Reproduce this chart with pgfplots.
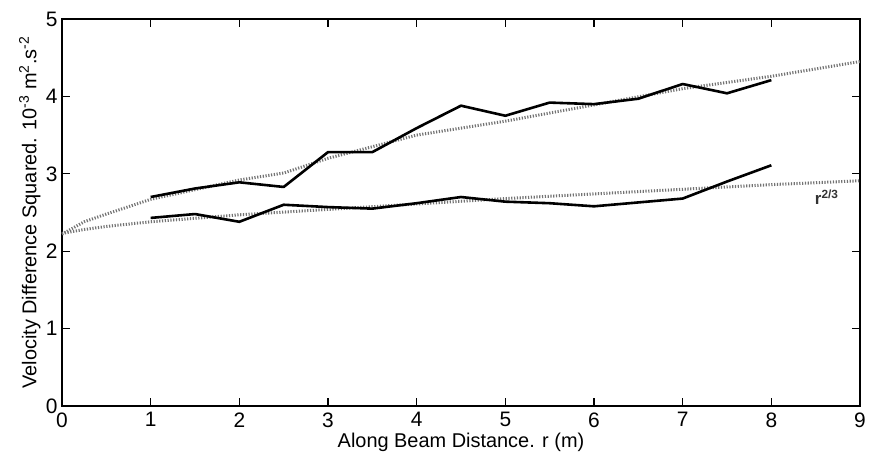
\documentclass[border=0pt]{standalone}
\usepackage{fontspec}
\setmainfont{Liberation Sans}
\usepackage{pgfplots}
\pgfplotsset{compat=1.18}
\begin{document}
\begin{tikzpicture}
\path[use as bounding box] (0,0) rectangle (872bp,458bp);
\begin{axis}[
  at={(62bp,52bp)}, anchor=south west,
  width=798bp, height=387bp, scale only axis,
  xmin=0, xmax=9, ymin=0, ymax=5,
  xtick={0,...,9}, ytick={0,...,5},
  tick align=inside,
  major tick length=8bp,
  axis line style={line width=1.4bp},
  every tick/.style={line width=1.2bp, black},
  font=\fontsize{20}{24}\selectfont,
  tick label style={font=\fontsize{21}{24}\selectfont},
  xticklabel style={yshift=-3bp},
  yticklabel style={xshift=-1bp},
  /pgf/number format/assume math mode=true,
  xlabel={Along Beam Distance. r (m)},
  ylabel={Velocity Difference Squared. 10\textsuperscript{-3} m\textsuperscript{2}.s\textsuperscript{-2}},
  xlabel style={at={(axis description cs:0.5,-0.1085)}, anchor=base},
  ylabel style={at={(axis description cs:-0.032,0.5)}, anchor=base, rotate=0},
  clip=false,
]
% fitted r^{2/3} curves (dotted)
\addplot[color=black!55, line width=3bp, dash pattern=on 1.2bp off 1.6bp] coordinates {
 (0,2.22) (0.25,2.38) (0.5,2.48) (1,2.67) (2,2.92) (2.5,3.01) (3,3.20) (4,3.50)
 (5,3.68) (6,3.89) (7,4.10) (8,4.26) (9,4.45)};
\addplot[color=black!55, line width=3bp, dash pattern=on 1.2bp off 1.6bp] coordinates {
 (0,2.23) (0.25,2.28) (0.5,2.32) (1,2.38) (2,2.47) (3,2.54) (4,2.61)
 (5,2.68) (6,2.74) (7,2.80) (8,2.86) (9,2.91)};
% measured
\addplot[black, line width=2.6bp, line join=round] coordinates {
 (1,2.70) (1.5,2.81) (2,2.89) (2.5,2.83) (3,3.28) (3.5,3.28) (4,3.59) (4.5,3.88)
 (5,3.75) (5.5,3.92) (6,3.90) (6.5,3.97) (7,4.16) (7.5,4.04) (8,4.21)};
\addplot[black, line width=2.6bp, line join=round] coordinates {
 (1,2.43) (1.5,2.48) (2,2.38) (2.5,2.60) (3,2.57) (3.5,2.55) (4,2.62) (4.5,2.70)
 (5,2.64) (5.5,2.62) (6,2.58) (6.5,2.63) (7,2.68) (7.5,2.90) (8,3.11)};
\node[anchor=base west, inner sep=0pt, font=\fontsize{17}{19}\selectfont\bfseries, text=black!80] at (axis cs:8.49,2.60) {r\textsuperscript{2/3}};
\end{axis}
\end{tikzpicture}
\end{document}
